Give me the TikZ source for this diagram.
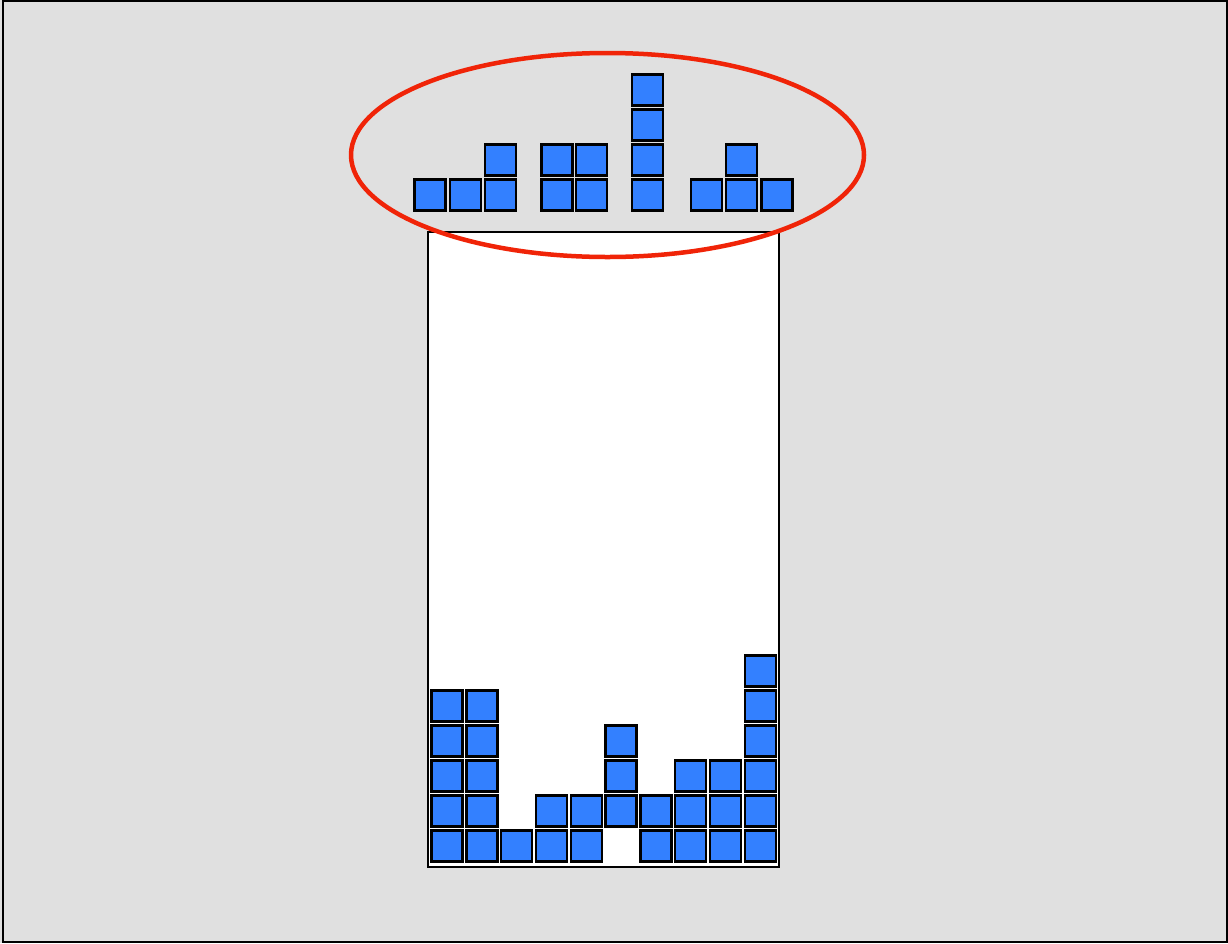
\documentclass[tikz,border=0pt]{standalone}
\usetikzlibrary{shapes,positioning}
\definecolor{tetblue}{RGB}{51,128,255}
\definecolor{panelgray}{RGB}{224,224,224}
\definecolor{ringred}{RGB}{240,36,8}
\begin{document}
\begin{tikzpicture}[
    x=1pt, y=-1pt,
    cell/.style={rectangle, draw=black, fill=tetblue, line width=2.4pt, minimum size=31pt, inner sep=0pt},
    well/.style={rectangle, draw=black, fill=white, line width=2pt, inner sep=0pt},
    ring/.style={ellipse, draw=ringred, line width=4.5pt, inner sep=0pt}
]

% Background panel
\useasboundingbox (0,0) rectangle (1228,943);
\fill[panelgray] (0,0) rectangle (1228,943);
\draw[line width=2pt] (2.5,1) rectangle (1227,942);

% Well
\node[well, minimum width=351pt, minimum height=635pt, anchor=north west] (well) at (427,231) {};

% Settled cells: column / lowest row / highest row
\foreach \c/\lo/\hi in {0/0/4, 1/0/4, 2/0/0, 3/0/1, 4/0/1, 5/1/3, 6/0/1, 7/0/2, 8/0/2, 9/0/5} {
    \foreach \r in {\lo,...,\hi}
        \node[cell] (s-\c-\r) at ({447+34.8*\c},{846-35*\r}) {};
}

% Incoming pieces
\foreach \x/\y [count=\i] in {430/195, 465.5/195, 500.5/195, 500.5/160}
    \node[cell] (L\i) at (\x,\y) {};
\foreach \x/\y [count=\i] in {557/195, 591.5/195, 557/160, 591.5/160}
    \node[cell] (O\i) at (\x,\y) {};
\foreach \y [count=\i] in {195, 160, 125, 90}
    \node[cell] (I\i) at (647.5,\y) {};
\foreach \x/\y [count=\i] in {706.5/195, 741.5/195, 777/195, 741.5/160}
    \node[cell] (T\i) at (\x,\y) {};

% Ring round the pieces
\node[ring, minimum width=513pt, minimum height=204pt] (pool) at (607.5,155) {};

\end{tikzpicture}
\end{document}
